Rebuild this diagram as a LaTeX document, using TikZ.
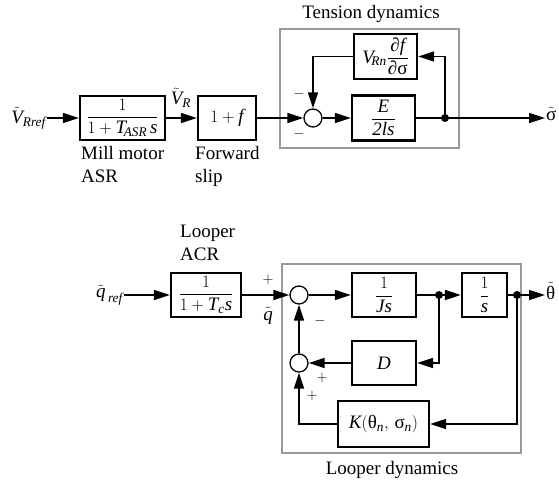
\documentclass[tikz,border=0pt]{standalone}
\usepackage{amsmath}
\usepackage{fontspec}
\setmainfont{Liberation Serif}
\usetikzlibrary{arrows.meta}
\newcommand{\mi}[1]{\textit{#1}}
\begin{document}
\begin{tikzpicture}[x=1pt,y=-1pt,
  every node/.style={font=\fontsize{19}{23}\selectfont},
  blk/.style={draw, line width=2.4pt, inner sep=0pt, anchor=center},
  sumc/.style={draw, circle, line width=1.3pt, minimum size=18pt, inner sep=0pt},
  jdot/.style={fill, circle, minimum size=8pt, inner sep=0pt},
  arr/.style={line width=1.6pt, -{Triangle[length=16pt,width=10pt]}},
  ln/.style={line width=1.6pt},
  gframe/.style={draw=black!40, line width=1.3pt},
  sgn/.style={font=\fontsize{15}{15}\selectfont, inner sep=0pt},
  lbl/.style={inner sep=1pt},
  txt/.style={inner sep=0pt, anchor=north west, align=left}
]
\useasboundingbox (0,0) rectangle (559,484);

% ---------- Tension part ----------
\draw[gframe] (280,29) rectangle (459,148);
\node (tdl) at (371,14) {Tension dynamics};

\node[blk, minimum width=85, minimum height=44] (asr) at (122.5,118) {$\dfrac{1}{1+\mi{T}_{\!\mi{ASR}}\,\mi{s}}$};
\node[blk, minimum width=58, minimum height=44] (fs) at (227,118) {$1+\mi{f}$};
\node[sumc] (t1) at (313,118) {};
\node[blk, minimum width=63, minimum height=45] (e2) at (383.5,118) {$\dfrac{\mi{E}}{\mi{2ls}}$};
\node[blk, minimum width=63, minimum height=45] (vrn) at (385.5,56.5) {$\mi{V}_{\!\mi{Rn}}\dfrac{\text{∂}\mi{f}}{\text{∂σ}}$};
\node[jdot] (j0) at (445,118) {};
\node[lbl, anchor=west] (sig) at (545,114) {$\tilde{\text{σ}}$};
\node[lbl, anchor=east] (vref) at (47,118) {$\tilde{\mi{V}}_{\mi{Rref}}$};
\node[lbl] (vr) at (181,98) {$\tilde{\mi{V}}_{\mi{R}}$};

\node[txt] (mm) at (81,146) {Mill motor\\ASR};
\node[txt] (fw) at (195,146) {Forward\\slip};

\node[sgn] (m1) at (299,94) {$-$};
\node[sgn] (m2) at (299,134) {$-$};

\draw[arr] (vref.east |- asr.west) -- (asr.west);
\draw[arr] (asr.east) -- (fs.west);
\draw[arr] (fs.east) -- (t1.west);
\draw[arr] (t1.east) -- (e2.west);
\draw[ln] (e2.east) -- (j0.center);
\draw[arr] (j0.center) -- (sig.west |- j0);
\draw[arr] (j0.center) |- (vrn.east);
\draw[arr] (vrn.west) -| (t1.north);

% ---------- Looper part ----------
\draw[gframe] (282,264) rectangle (521,453);
\node (ldl) at (392,470) {Looper dynamics};
\node[txt] (lacr) at (180,225) {Looper\\ACR};

\node[blk, minimum width=70, minimum height=44] (acr) at (206,295) {$\dfrac{1}{1+\mi{T}_{\mi{c}}\mi{s}}$};
\node[sumc] (s1) at (299,295) {};
\node[blk, minimum width=64, minimum height=44] (js) at (384,295) {$\dfrac{1}{\mi{Js}}$};
\node[jdot] (j1) at (439,295) {};
\node[blk, minimum width=45, minimum height=44] (sb) at (484.5,295) {$\dfrac{1}{\mi{s}}$};
\node[jdot] (j2) at (517,295) {};
\node[lbl, anchor=west] (th) at (545,291) {$\tilde{\text{θ}}$};
\node[sumc] (s2) at (299,363) {};
\node[blk, minimum width=64, minimum height=44] (dd) at (384,363) {$\mi{D}$};
\node[blk, minimum width=91, minimum height=46] (kk) at (383.5,424) {$\mi{K}(\text{θ}_{\mi{n}},\,\text{σ}_{\mi{n}})$};
\node[lbl, anchor=east] (qref) at (124,295) {$\tilde{\mi{q}}_{\,\mi{ref}}$};
\node[lbl] (ql) at (268,316) {$\tilde{\mi{q}}$};

\node[sgn] (p1) at (268,280) {$+$};
\node[sgn] (m3) at (320,321) {$-$};
\node[sgn] (p2) at (322,378) {$+$};
\node[sgn] (p3) at (312,396) {$+$};

\draw[arr] (qref.east |- acr.west) -- (acr.west);
\draw[arr] (acr.east) -- (s1.west);
\draw[arr] (s1.east) -- (js.west);
\draw[arr] (js.east) -- (sb.west);
\draw[ln] (sb.east) -- (j2.center);
\draw[arr] (j2.center) -- (th.west |- j2);
\draw[arr] (j1.center) |- (dd.east);
\draw[arr] (dd.west) -- (s2.east);
\draw[arr] (j2.center) |- (kk.east);
\draw[arr] (kk.west) -| (s2.south);
\draw[arr] (s2.north) -- (s1.south);
\end{tikzpicture}
\end{document}
